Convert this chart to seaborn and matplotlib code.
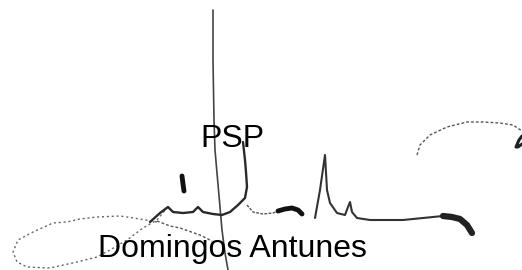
import numpy as np
import pandas as pd
import matplotlib
matplotlib.use("Agg")
import matplotlib.pyplot as plt
import seaborn as sns

sns.set_style("white")
plt.rcParams["font.family"] = ["Liberation Sans", "DejaVu Sans"]

# signature strokes, in picture pixels (x right, y down)
long_x = [213, 213, 214, 215, 217, 220, 222, 225, 228]
long_y = [10, 60, 120, 150, 173, 207, 230, 253, 270]

loop_x = [157, 140, 120, 97, 80, 67, 53, 33, 18, 13, 17, 27, 50, 77, 97, 110, 127, 143, 157, 167]
loop_y = [222, 219, 216, 217, 219, 222, 223, 232, 240, 252, 262, 267, 268, 262, 257, 250, 240, 228, 220, 208]

diag_x = [157, 170, 180, 200, 212]
diag_y = [221, 226, 228, 235, 241]

body_x = [150, 160, 168, 173, 183, 193, 198, 203, 213, 222, 230, 238, 245, 247, 246, 245, 243]
body_y = [222, 213, 207, 212, 213, 212, 207, 212, 214, 215, 212, 205, 198, 187, 172, 160, 142]

tail_x = [247, 253, 263, 273, 278]
tail_y = [205, 212, 214, 213, 211]

dash_x = [278, 285, 292, 298, 302]
dash_y = [211, 209, 208, 210, 214]

peak_x = [315, 320, 325, 327, 330, 337, 345, 348, 350, 352, 357, 370, 403, 423, 443, 457, 467, 472]
peak_y = [218, 190, 155, 190, 203, 213, 215, 207, 202, 212, 218, 220, 220, 218, 216, 218, 225, 233]

blob_x = [443, 452, 460, 467, 472]
blob_y = [216, 217, 219, 225, 233]

dot_x = [182, 183, 184]
dot_y = [176, 184, 191]

arc_x = [417, 420, 430, 447, 467, 483, 500, 513, 522]
arc_y = [155, 145, 135, 127, 122, 122, 123, 125, 131]

hook_x = [522, 519, 516, 518, 522]
hook_y = [136, 140, 147, 147, 144]

labels = ["PSP", "Domingos Antunes"]
label_x = [200.5, 97.5]
label_y = [147, 257]

# x, y, width, colour, dash pattern (None = solid)
strokes = [
    (long_x, long_y, 1.2, "#444444", None),
    (loop_x, loop_y, 1.0, "#666666", (0, (1.5, 2))),
    (diag_x, diag_y, 1.0, "#555555", (0, (2, 1.5))),
    (body_x, body_y, 1.7, "#2a2a2a", None),
    (tail_x, tail_y, 1.0, "#555555", (0, (2, 1))),
    (dash_x, dash_y, 3.5, "#111111", None),
    (peak_x, peak_y, 1.5, "#333333", None),
    (blob_x, blob_y, 4.5, "#222222", None),
    (dot_x, dot_y, 3.5, "#111111", None),
    (arc_x, arc_y, 1.0, "#555555", (0, (2, 1.5))),
    (hook_x, hook_y, 2.2, "#222222", None),
]

fig = plt.figure(figsize=(5.22, 2.70), dpi=100)
ax = fig.add_axes([0, 0, 1, 1])

for xs, ys, lw, col, dash in strokes:
    line_ax = sns.lineplot(x=xs, y=ys, sort=False, estimator=None, color=col,
                           linewidth=lw, solid_capstyle="round", ax=ax)
    if dash is not None:
        line_ax.lines[-1].set_linestyle(dash)

for txt, tx, ty in zip(labels, label_x, label_y):
    ax.text(tx, ty, txt, fontsize=23, color="black", ha="left", va="baseline")

ax.set_xlim(0, 522)
ax.set_ylim(270, 0)
ax.axis("off")

fig.savefig("out.png", dpi=100)
